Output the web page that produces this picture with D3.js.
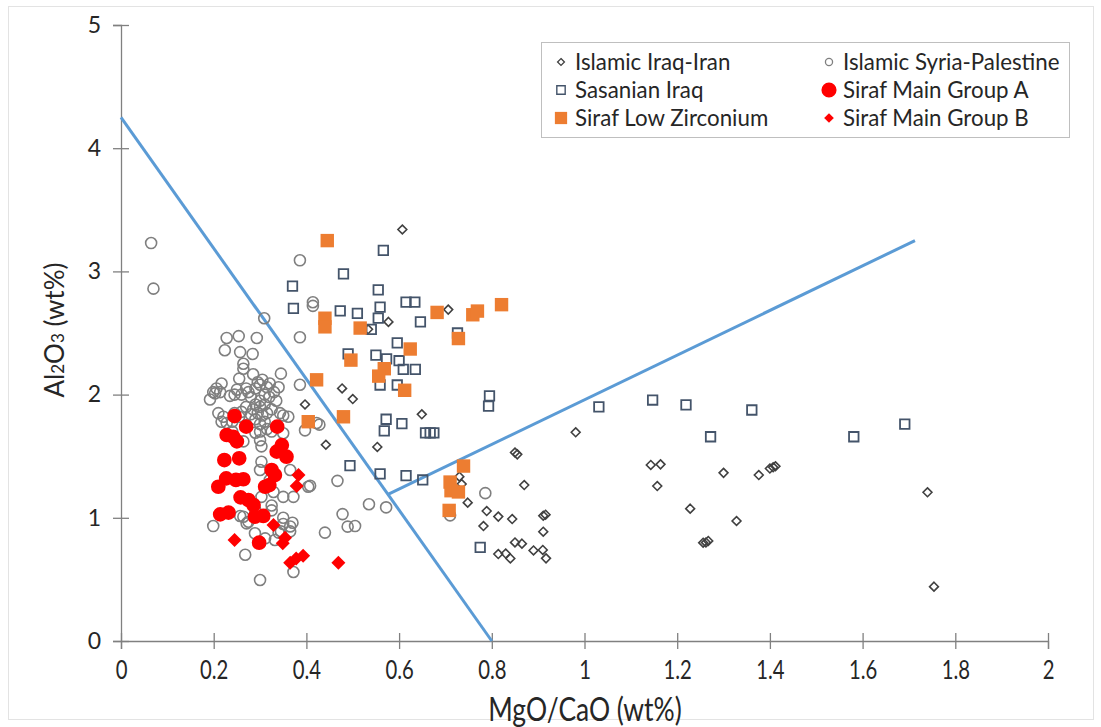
<!DOCTYPE html>
<html>
<head>
<meta charset="utf-8">
<script src="https://cdn.jsdelivr.net/npm/d3@7"></script>
<style>
  body { margin: 0; background: #fff; }
  text { font-family: Lato, "Open Sans", sans-serif; fill: #262626; }
</style>
</head>
<body>
<svg id="chart" width="1101" height="727"></svg>
<script>
// Axis ticks
const xTicks = [0, 0.2, 0.4, 0.6, 0.8, 1, 1.2, 1.4, 1.6, 1.8, 2];
const yTicks = [0, 1, 2, 3, 4, 5];

// Islamic Iraq-Iran  [MgO/CaO, Al2O3]
const islamicIraqIran = [
  [0.607,3.34],[0.706,2.69],[0.577,2.59],[0.533,2.53],[0.649,1.84],[0.477,2.05],[0.50,1.964],
  [0.397,1.92],[0.442,1.593],[0.553,1.575],[0.73,1.334],[0.735,1.274],[0.748,1.123],[0.789,1.055],
  [0.814,1.01],[0.782,0.933],[0.814,0.706],[0.981,1.694],[0.85,1.53],[0.855,1.515],[0.87,1.266],
  [0.844,0.99],[0.85,0.80],[0.865,0.79],[0.83,0.71],[0.84,0.67],[0.89,0.735],[0.911,1.017],
  [0.916,1.025],[0.911,0.887],[0.91,0.739],[0.917,0.671],[1.143,1.429],[1.164,1.434],[1.157,1.258],
  [1.228,1.074],[1.30,1.365],[1.328,0.974],[1.256,0.798],[1.262,0.80],[1.267,0.812],[1.376,1.347],
  [1.40,1.40],[1.407,1.41],[1.412,1.418],[1.74,1.207],[1.754,0.441]
];

// Islamic Syria-Palestine
const islamicSyriaPalestine = [
  [0.065,3.23],[0.07,2.86],[0.386,3.09],[0.414,2.75],[0.414,2.72],[0.309,2.62],[0.386,2.465],
  [0.228,2.46],[0.254,2.475],[0.293,2.46],[0.224,2.36],[0.257,2.345],[0.284,2.33],[0.264,2.25],
  [0.264,2.21],[0.345,2.17],[0.386,2.08],[0.217,2.09],[0.206,2.05],[0.199,2.02],[0.255,2.13],
  [0.285,2.165],[0.321,2.09],
  [0.192,1.96],[0.203,2.01],[0.214,2.02],[0.21,1.85],[0.221,1.82],[0.217,1.78],[0.228,1.77],
  [0.235,1.99],[0.245,2.0],[0.25,2.04],[0.26,2.0],[0.27,2.05],[0.275,2.02],[0.28,1.98],[0.29,2.05],
  [0.295,2.1],[0.3,2.08],[0.305,2.12],[0.31,2.0],[0.315,2.06],[0.32,1.98],[0.33,2.02],[0.335,1.95],
  [0.34,2.06],[0.3,1.95],[0.29,1.92],[0.285,1.88],[0.3,1.9],[0.31,1.92],[0.27,1.9],[0.26,1.86],
  [0.255,1.82],[0.245,1.85],[0.28,1.84],[0.295,1.85],[0.305,1.83],[0.315,1.85],[0.325,1.88],
  [0.29,1.8],[0.3,1.76],[0.31,1.78],[0.315,1.72],[0.3,1.7],[0.29,1.69],[0.35,1.83],[0.361,1.82],
  [0.343,1.85],[0.325,1.70],[0.35,1.686],[0.264,1.62],[0.3,1.63],[0.303,1.58],[0.24,1.7],
  [0.24,1.78],[0.27,1.75],
  [0.303,1.455],[0.30,1.388],[0.365,1.388],[0.321,1.307],[0.329,1.21],[0.35,1.17],[0.372,1.17],
  [0.303,1.17],[0.325,1.10],[0.325,1.06],[0.289,1.07],[0.264,1.009],[0.257,1.015],[0.275,0.968],
  [0.271,0.955],[0.35,1.0],[0.35,0.95],[0.365,0.93],[0.37,0.96],[0.365,0.89],[0.345,0.89],
  [0.34,0.88],[0.199,0.933],[0.289,0.874],[0.311,0.833],[0.332,0.82],[0.268,0.70],[0.372,0.56],
  [0.30,0.495],[0.404,1.252],[0.408,1.26],[0.44,0.88],[0.422,1.77],[0.428,1.756],[0.397,1.71],
  [0.467,1.30],[0.535,1.11],[0.572,1.085],[0.478,1.03],[0.489,0.928],[0.505,0.933],[0.71,1.02],
  [0.786,1.20]
];

// Sasanian Iraq
const sasanianIraq = [
  [0.37,2.88],[0.372,2.70],[0.48,2.98],[0.566,3.17],[0.555,2.85],[0.559,2.71],[0.615,2.75],
  [0.634,2.75],[0.646,2.59],[0.473,2.68],[0.51,2.66],[0.555,2.62],[0.54,2.53],[0.726,2.50],
  [0.596,2.42],[0.573,2.29],[0.60,2.275],[0.55,2.32],[0.49,2.33],[0.609,2.205],[0.635,2.205],
  [0.559,2.078],[0.596,2.078],[0.795,1.99],[0.793,1.907],[0.572,1.80],[0.606,1.764],[0.568,1.705],
  [0.657,1.69],[0.667,1.69],[0.675,1.69],[0.494,1.423],[0.559,1.356],[0.615,1.342],[0.651,1.307],
  [0.775,0.76],[1.031,1.90],[1.147,1.956],[1.219,1.916],[1.272,1.658],[1.361,1.875],[1.581,1.658],
  [1.691,1.761]
];

// Siraf Main Group A
const sirafGroupA = [
  [0.245,1.826],[0.27,1.74],[0.337,1.74],[0.228,1.672],[0.242,1.658],[0.25,1.62],[0.347,1.59],
  [0.336,1.537],[0.357,1.496],[0.223,1.469],[0.255,1.483],[0.325,1.388],[0.332,1.347],[0.227,1.32],
  [0.248,1.307],[0.264,1.313],[0.21,1.252],[0.311,1.252],[0.32,1.266],[0.258,1.166],[0.275,1.144],
  [0.286,1.104],[0.214,1.028],[0.232,1.042],[0.289,1.009],[0.307,1.015],[0.298,0.798]
];

// Siraf Low Zirconium
const sirafLowZr = [
  [0.445,3.25],[0.44,2.62],[0.44,2.55],[0.682,2.667],[0.759,2.648],[0.769,2.678],[0.821,2.73],
  [0.728,2.455],[0.624,2.37],[0.516,2.54],[0.496,2.28],[0.568,2.21],[0.556,2.15],[0.422,2.12],
  [0.612,2.035],[0.404,1.78],[0.48,1.82],[0.739,1.42],[0.71,1.29],[0.712,1.22],[0.728,1.21],
  [0.708,1.06]
];

// Siraf Main Group B
const sirafGroupB = [
  [0.245,0.82],[0.329,0.942],[0.354,0.839],[0.349,0.793],[0.383,1.347],[0.379,1.258],
  [0.365,0.636],[0.378,0.67],[0.393,0.692],[0.469,0.636]
];

// Discrimination lines
const boundaryA = [[0, 4.25], [0.8, 0]];
const boundaryB = [[0.576, 1.19], [1.713, 3.25]];

const svg = d3.select("#chart");
const x = d3.scaleLinear().domain([0, 2]).range([121, 1048]);
const y = d3.scaleLinear().domain([0, 5]).range([641, 25]);

// chart frame
svg.append("rect").attr("x", 8.5).attr("y", 6.5).attr("width", 1085).attr("height", 713)
  .attr("fill", "none").attr("stroke", "#e3e3e3");

const axisColor = "#808080";

const gx = svg.append("g").attr("transform", `translate(0,${y(0)})`)
  .call(d3.axisBottom(x).tickValues(xTicks).tickSizeOuter(0).tickSize(8).tickPadding(12)
    .tickFormat(d => String(+d.toFixed(1))));
gx.select(".domain").attr("stroke", axisColor).attr("stroke-width", 1.3);
gx.selectAll(".tick line").attr("y1", -8).attr("y2", 8).attr("stroke", axisColor).attr("stroke-width", 1.3);
// condensed look for the x tick labels
gx.selectAll(".tick text").attr("font-family", "Lato, sans-serif")
  .attr("font-size", 26).attr("fill", "#262626").attr("transform", "scale(0.78,1)");

const gy = svg.append("g").attr("transform", `translate(${x(0)},0)`)
  .call(d3.axisLeft(y).tickValues(yTicks).tickSizeOuter(0).tickSize(8).tickPadding(12)
    .tickFormat(d3.format("d")));
gy.select(".domain").attr("stroke", axisColor).attr("stroke-width", 1.3);
gy.selectAll(".tick line").attr("x1", -8).attr("x2", 8).attr("stroke", axisColor).attr("stroke-width", 1.3);
gy.selectAll(".tick text").attr("font-family", "Lato, sans-serif").attr("font-size", 23).attr("fill", "#262626");

// axis titles
svg.append("text").attr("transform", "translate(585,721) scale(0.8,1)").attr("text-anchor", "middle")
  .attr("font-size", 33).text("MgO/CaO (wt%)");
const yt = svg.append("text").attr("transform", "translate(64,330) rotate(-90)")
  .attr("text-anchor", "middle").attr("font-size", 26);
yt.append("tspan").text("Al");
yt.append("tspan").attr("font-size", 17).text("2");
yt.append("tspan").text("O");
yt.append("tspan").attr("font-size", 17).text("3");
yt.append("tspan").text(" (wt%)");

// boundary lines
const line = d3.line().x(d => x(d[0])).y(d => y(d[1]));
[boundaryA, boundaryB].forEach(b => {
  svg.append("path").attr("d", line(b)).attr("fill", "none")
    .attr("stroke", "#5B9BD5").attr("stroke-width", 3);
});

// marker drawing
const sym = {
  circle: d3.symbolCircle, square: d3.symbolSquare, diamond: d3.symbolDiamond2
};
function drawSeries(data, shape, area, fill, stroke, sw) {
  svg.append("g").selectAll("path").data(data).join("path")
    .attr("transform", d => `translate(${x(d[0])},${y(d[1])})`)
    .attr("d", d3.symbol(sym[shape], area)())
    .attr("fill", fill).attr("stroke", stroke).attr("stroke-width", sw);
}

drawSeries(islamicSyriaPalestine, "circle", 95, "none", "#7f7f7f", 1.6);
drawSeries(islamicIraqIran, "diamond", 50, "none", "#404040", 1.6);
drawSeries(sasanianIraq, "square", 90, "none", "#44546A", 1.8);
drawSeries(sirafLowZr, "square", 180, "#ED7D31", "none", 0);
drawSeries(sirafGroupA, "circle", 170, "#FF0000", "none", 0);
drawSeries(sirafGroupB, "diamond", 125, "#FF0000", "none", 0);

// legend
const legend = svg.append("g");
legend.append("rect").attr("x", 541.5).attr("y", 42.5).attr("width", 528).attr("height", 95)
  .attr("fill", "#fff").attr("stroke", "#bfbfbf");
const legendItems = [
  { name: "Islamic Iraq-Iran", shape: "diamond", area: 30, fill: "none", stroke: "#404040", sw: 1.3, col: 0, row: 0 },
  { name: "Islamic Syria-Palestine", shape: "circle", area: 40, fill: "none", stroke: "#7f7f7f", sw: 1.3, col: 1, row: 0 },
  { name: "Sasanian Iraq", shape: "square", area: 70, fill: "none", stroke: "#44546A", sw: 1.4, col: 0, row: 1 },
  { name: "Siraf Main Group A", shape: "circle", area: 180, fill: "#FF0000", stroke: "none", sw: 0, col: 1, row: 1 },
  { name: "Siraf Low Zirconium", shape: "square", area: 150, fill: "#ED7D31", stroke: "none", sw: 0, col: 0, row: 2 },
  { name: "Siraf Main Group B", shape: "diamond", area: 60, fill: "#FF0000", stroke: "none", sw: 0, col: 1, row: 2 }
];
legendItems.forEach(it => {
  const lx = it.col === 0 ? 561 : 829;
  const ly = 62 + it.row * 28;
  legend.append("path").attr("transform", `translate(${lx},${ly})`)
    .attr("d", d3.symbol(sym[it.shape], it.area)())
    .attr("fill", it.fill).attr("stroke", it.stroke).attr("stroke-width", it.sw);
  legend.append("text").attr("x", lx + 14).attr("y", ly + 7.5).attr("font-size", 22.3).text(it.name);
});
</script>
</body>
</html>
